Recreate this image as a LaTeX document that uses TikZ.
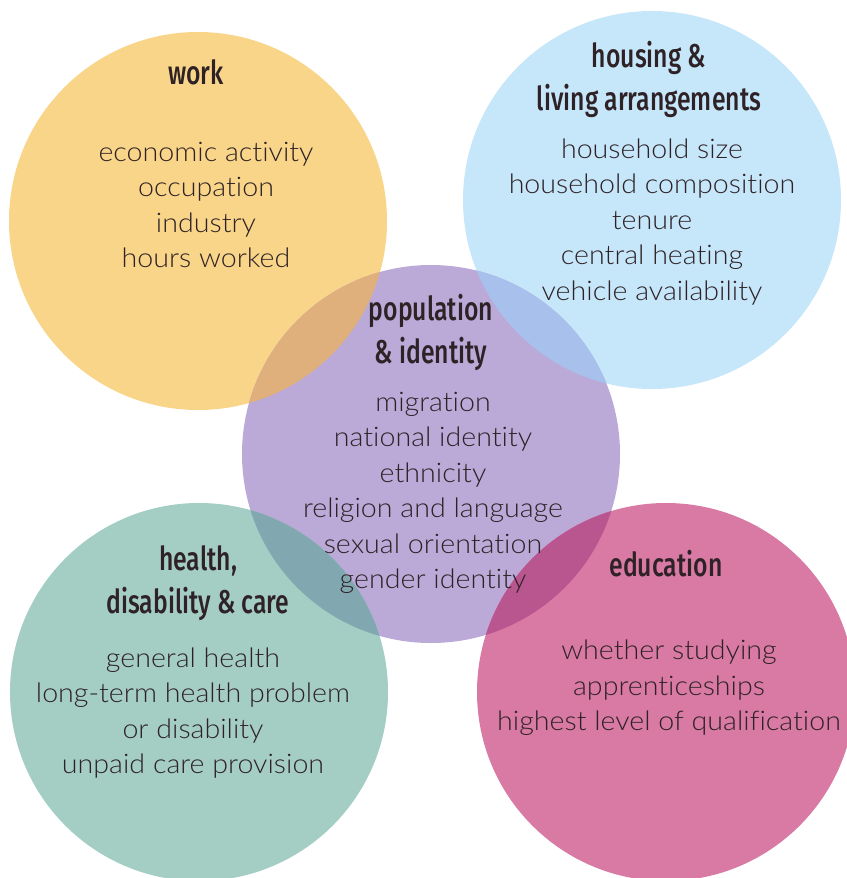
\documentclass[tikz,border=0pt]{standalone}
\usepackage{fontspec}
\setmainfont{Lato}[UprightFont=* Light, FakeStretch=1.06, Ligatures={NoCommon}]
\newfontfamily\headfont[FakeStretch=0.75, UprightFont=* Medium]{Fira Sans}
\usepackage{tikz}
\usetikzlibrary{positioning}

\definecolor{inkcol}{HTML}{2E2226}
\definecolor{workcol}{HTML}{F9D589}
\definecolor{housecol}{HTML}{C6E6FA}
\definecolor{popcol}{HTML}{BBA9D7}
\definecolor{healthcol}{HTML}{A4CDC4}
\definecolor{educol}{HTML}{D87AA3}
\definecolor{workpop}{HTML}{DFB07B}
\definecolor{housepop}{HTML}{A8C0EC}
\definecolor{healthpop}{HTML}{81A8B1}
\definecolor{edupop}{HTML}{B9568F}

\tikzset{
  headtext/.style={font=\headfont\fontsize{33bp}{43bp}\selectfont, text=inkcol, align=center, inner sep=0pt},
  itemtext/.style={font=\fontsize{27bp}{35.5bp}\selectfont, text=inkcol, align=center, inner sep=0pt}
}

\begin{document}
\begin{tikzpicture}[x=1bp, y=-1bp]
  \useasboundingbox (0,0) rectangle (847,878);

  % Circle centres
  \coordinate (work) at (198,221);
  \coordinate (house) at (652,200);
  \coordinate (pop) at (431,454);
  \coordinate (health) at (199,692);
  \coordinate (edu) at (666,692);

  % Draw the circles
  \fill[workcol] (work) circle (189);
  \fill[housecol] (house) circle (189);
  \fill[popcol] (pop) circle (189);
  \fill[healthcol] (health) circle (189);
  \fill[educol] (edu) circle (189);

  % Overlaps with the middle circle
  \begin{scope}
    \clip (pop) circle (189);
    \fill[workpop] (work) circle (189);
    \fill[housepop] (house) circle (189);
    \fill[healthpop] (health) circle (189);
    \fill[edupop] (edu) circle (189);
  \end{scope}

  % Work
  \node[headtext] (worktitle) at (196,72) {work};
  \node[itemtext] (workitems) at (206,205) {economic activity\\occupation\\industry\\hours worked};

  % Housing
  \node[headtext] (housetitle) at (649,79) {housing \&\\living arrangements};
  \node[itemtext] (houseitems) at (652,222) {household size\\household composition\\tenure\\central heating\\vehicle availability};

  % Population
  \node[headtext] (poptitle) at (431,332) {population\\\& identity};
  \node[itemtext] (popitems) at (433,493) {migration\\national identity\\ethnicity\\religion and language\\sexual orientation\\gender identity};

  % Health
  \node[headtext] (healthtitle) at (198,583) {health,\\disability \& care};
  \node[itemtext] (healthitems) at (193,713) {general health\\long-term health problem\\or disability\\unpaid care provision};

  % Education
  \node[headtext] (edutitle) at (666,564) {education};
  \node[itemtext] (eduitems) at (669,688) {whether studying\\apprenticeships\\highest level of qualification};
\end{tikzpicture}
\end{document}
